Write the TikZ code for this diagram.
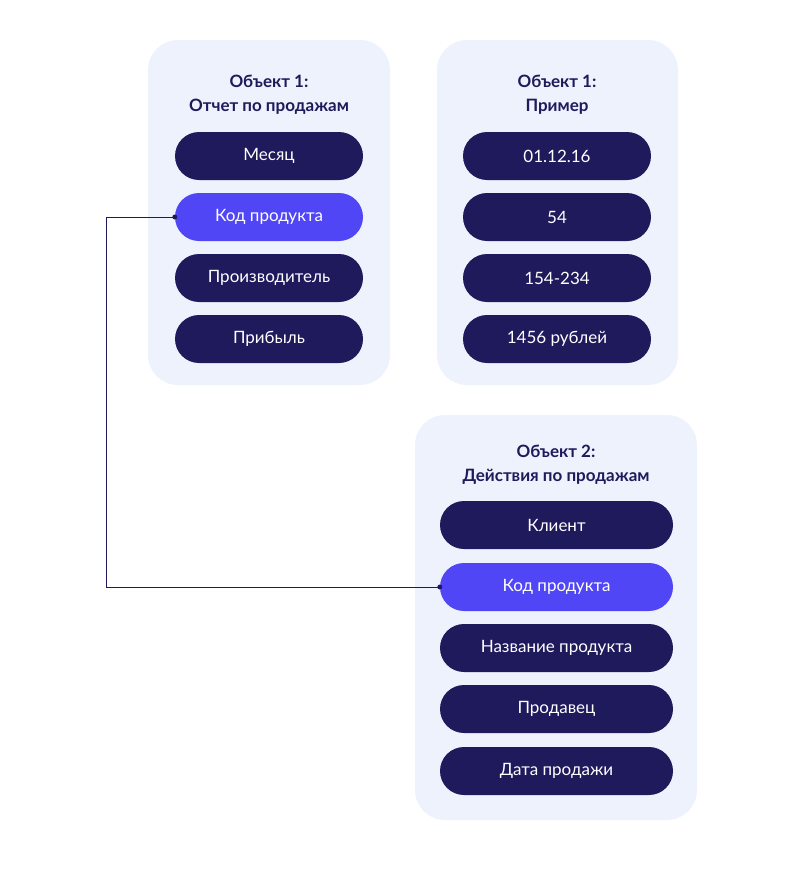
\documentclass[tikz,border=0pt]{standalone}
\usepackage{fontspec}
\setmainfont{Lato}
\begin{document}
\definecolor{panel}{HTML}{EEF2FD}
\definecolor{dark}{HTML}{1F1A5C}
\definecolor{accent}{HTML}{5046F5}
\begin{tikzpicture}[x=1pt,y=-1pt,
  panelbox/.style={fill=panel,rounded corners=30pt},
  pill/.style={draw=none,fill=dark,rounded corners=24pt,minimum height=48pt,text=white,font=\fontsize{17}{20}\selectfont,inner sep=0pt},
  hl/.style={pill,fill=accent},
  ttl/.style={text=dark,font=\fontsize{17}{24}\selectfont\bfseries,align=center},
  conn/.style={draw=dark,line width=1pt},
  dot/.style={circle,fill=dark,inner sep=0pt,minimum size=5pt}]
\useasboundingbox (0,0) rectangle (795,892);
\fill[panelbox] (148,40) rectangle (390,385);
\fill[panelbox] (437,40) rectangle (678,385);
\fill[panelbox] (415,415) rectangle (697,820);
\node[ttl] (t1) at (269,95) {Объект 1:\\Отчет по продажам};
\node[ttl] (t2) at (557,95) {Объект 1:\\Пример};
\node[ttl] (t3) at (556,465) {Объект 2:\\Действия по продажам};
\foreach \n/\y/\s/\t in {a1/156/pill/Месяц,a2/217/hl/Код продукта,a3/278/pill/Производитель,a4/339/pill/Прибыль}
  \node[\s,minimum width=188pt] (\n) at (269,\y) {\t};
\foreach \n/\y/\t in {b1/156/01.12.16,b2/217/54,b3/278/154-234,b4/339/1456 рублей}
  \node[pill,minimum width=188pt] (\n) at (557,\y) {\t};
\foreach \n/\y/\s/\t in {c1/525/pill/Клиент,c2/587/hl/Код продукта,c3/648/pill/Название продукта,c4/709/pill/Продавец,c5/771/pill/Дата продажи}
  \node[\s,minimum width=233pt] (\n) at (556.5,\y) {\t};
\coordinate (k1) at (106,217);
\coordinate (k2) at (106,587);
\draw[conn] (a2.west) -- (k1) -- (k2) -- (c2.west);
\node[dot] (d1) at (a2.west) {};
\node[dot] (d2) at (c2.west) {};
\end{tikzpicture}
\end{document}
